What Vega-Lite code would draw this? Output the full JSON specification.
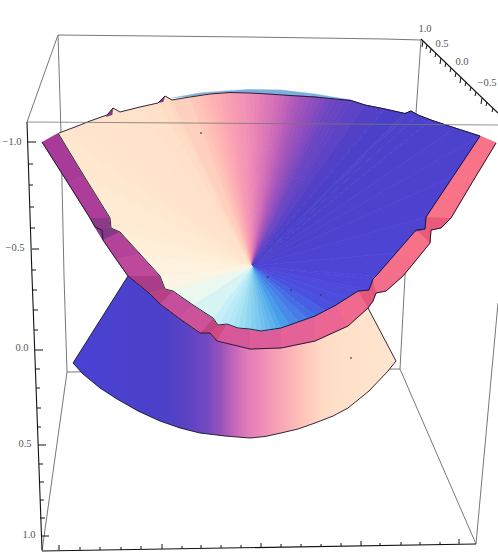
{"$schema":"https://vega.github.io/schema/vega-lite/v6.json","width":498,"height":552,"padding":0,"autosize":"none","background":"white","config":{"view":{"stroke":null}},
"datasets":{
"back":[{"i":1,"x":[58,248,385,421],"y":[35,37,39,40],"o":[0,1,2,3]},{"i":2,"x":[27,58],"y":[122,35],"o":[0,1]},{"i":3,"x":[58,61,64,67],"y":[35,133,276,372],"o":[0,1,2,3]},{"i":4,"x":[67,42],"y":[372,551],"o":[0,1]},{"i":5,"x":[67,400],"y":[372,369],"o":[0,1]},{"i":6,"x":[400,405,416,421],"y":[369,276,113,40],"o":[0,1,2,3]},{"i":7,"x":[400,476],"y":[369,544],"o":[0,1]},{"i":8,"x":[476,498],"y":[544,303],"o":[0,1]}],
"lower":[{"i":1,"x":[128,73,83,100,117,138,160,180,200,225,250,265,281,298,315,333,348,369,388,396,368,348,315,281,250,217,210,200,180,160,149],"y":[276,363,374,388,399,411,421,428,433,436,438,436.5,433,429,423,416,408,391,371,361,308,326,341,348,349,341,333,333,319,304,293],"o":[0,1,2,3,4,5,6,7,8,9,10,11,12,13,14,15,16,17,18,19,20,21,22,23,24,25,26,27,28,29,30]}],
"strip":[{"i":1,"x":[172,200,225,248,281,315,351,315,268,248,225,200],"y":[98,93,91,89.5,90,94,100,97,94,93,94,96],"o":[0,1,2,3,4,5,6,7,8,9,10,11]}],
"band":[
{"i":1,"v":400,"x":[58,84,68,42],"y":[133,176,183,142],"o":[0,1,2,3]},
{"i":2,"v":404,"x":[84,110,90,68],"y":[176,218,218,183],"o":[0,1,2,3]},
{"i":3,"v":605,"x":[110,111,95,90],"y":[218,228,227,218],"o":[0,1,2,3]},
{"i":4,"v":600,"x":[111,120,103,95],"y":[228,232,240,227],"o":[0,1,2,3]},
{"i":5,"v":412,"x":[120,140,116,103],"y":[232,254,259,240],"o":[0,1,2,3]},
{"i":6,"v":420,"x":[140,160,128,116],"y":[254,276,276,259],"o":[0,1,2,3]},
{"i":7,"v":632,"x":[160,165,149,128],"y":[276,289,293,276],"o":[0,1,2,3]},
{"i":8,"v":645,"x":[165,173,160,149],"y":[289,291,304,293],"o":[0,1,2,3]},
{"i":9,"v":428,"x":[173,193,180,160],"y":[291,305,319,304],"o":[0,1,2,3]},
{"i":10,"v":436,"x":[193,213,200,180],"y":[305,318,333,319],"o":[0,1,2,3]},
{"i":11,"v":655,"x":[213,218,210,200],"y":[318,325,333,333],"o":[0,1,2,3]},
{"i":12,"v":670,"x":[218,227,217,210],"y":[325,324,341,333],"o":[0,1,2,3]},
{"i":13,"v":452,"x":[227,250,250,217],"y":[324,329,349,341],"o":[0,1,2,3]},
{"i":14,"v":464,"x":[250,281,281,250],"y":[329,328,348,349],"o":[0,1,2,3]},
{"i":15,"v":475,"x":[281,315,315,281],"y":[328,316,341,348],"o":[0,1,2,3]},
{"i":16,"v":482,"x":[315,336,348,315],"y":[316,305,326,341],"o":[0,1,2,3]},
{"i":17,"v":488,"x":[336,358,368,348],"y":[305,291,308,326],"o":[0,1,2,3]},
{"i":18,"v":695,"x":[358,369,373,368],"y":[291,290,301,308],"o":[0,1,2,3]},
{"i":19,"v":695,"x":[369,373,376,373],"y":[290,279,293,301],"o":[0,1,2,3]},
{"i":20,"v":493,"x":[373,376,403,386,376],"y":[279,276,276,291,293],"o":[0,1,2,3,4]},
{"i":21,"v":496,"x":[376,396,417,403],"y":[276,253,259,276],"o":[0,1,2,3]},
{"i":22,"v":498,"x":[396,416,430,417],"y":[253,230,243,259],"o":[0,1,2,3]},
{"i":23,"v":700,"x":[416,425,431,430],"y":[230,229,230,243],"o":[0,1,2,3]},
{"i":24,"v":700,"x":[425,426,451,441,431],"y":[229,217,218,228,230],"o":[0,1,2,3,4]},
{"i":25,"v":500,"x":[426,453,473,451],"y":[217,176,181,218],"o":[0,1,2,3]},
{"i":26,"v":500,"x":[453,480,496,473],"y":[176,136,143,181],"o":[0,1,2,3]}],
"fan":[
{"i":1,"v":-53.6,"x":[252,59,75],"y":[266,133,127],"o":[0,1,2]},
{"i":2,"v":-50,"x":[252,75,90],"y":[266,127,121],"o":[0,1,2]},
{"i":3,"v":-46,"x":[252,90,107],"y":[266,121,115],"o":[0,1,2]},
{"i":4,"v":-42.5,"x":[252,107,113],"y":[266,115,108],"o":[0,1,2]},
{"i":5,"v":-41,"x":[252,113,120],"y":[266,108,112],"o":[0,1,2]},
{"i":6,"v":-38,"x":[252,120,140],"y":[266,112,107],"o":[0,1,2]},
{"i":7,"v":-32.6,"x":[252,140,158],"y":[266,107,103],"o":[0,1,2]},
{"i":8,"v":-28.5,"x":[252,158,165],"y":[266,103,96],"o":[0,1,2]},
{"i":9,"v":-26.4,"x":[252,165,172],"y":[266,96,100],"o":[0,1,2]},
{"i":10,"v":-23,"x":[252,172,190],"y":[266,100,97],"o":[0,1,2]},
{"i":11,"v":-19.3,"x":[252,190,195],"y":[266,97,96.2],"o":[0,1,2]},
{"i":12,"v":-17.8,"x":[252,195,200],"y":[266,96.2,95.5],"o":[0,1,2]},
{"i":13,"v":-16.2,"x":[252,200,205],"y":[266,95.5,94.7],"o":[0,1,2]},
{"i":14,"v":-14.5,"x":[252,205,210],"y":[266,94.7,94],"o":[0,1,2]},
{"i":15,"v":-12.9,"x":[252,210,215],"y":[266,94,93.5],"o":[0,1,2]},
{"i":16,"v":-11.3,"x":[252,215,220],"y":[266,93.5,93],"o":[0,1,2]},
{"i":17,"v":-9.7,"x":[252,220,225],"y":[266,93,92.7],"o":[0,1,2]},
{"i":18,"v":-8,"x":[252,225,230],"y":[266,92.7,92.5],"o":[0,1,2]},
{"i":19,"v":-6.4,"x":[252,230,235],"y":[266,92.5,92.7],"o":[0,1,2]},
{"i":20,"v":-4.8,"x":[252,235,240],"y":[266,92.7,93],"o":[0,1,2]},
{"i":21,"v":-3.2,"x":[252,240,245],"y":[266,93,93],"o":[0,1,2]},
{"i":22,"v":-1.5,"x":[252,245,250],"y":[266,93,93],"o":[0,1,2]},
{"i":23,"v":0.2,"x":[252,250,255],"y":[266,93,93.2],"o":[0,1,2]},
{"i":24,"v":1.8,"x":[252,255,260],"y":[266,93.2,93.5],"o":[0,1,2]},
{"i":25,"v":3.5,"x":[252,260,265],"y":[266,93.5,93.8],"o":[0,1,2]},
{"i":26,"v":5.1,"x":[252,265,270],"y":[266,93.8,94.2],"o":[0,1,2]},
{"i":27,"v":6.8,"x":[252,270,275],"y":[266,94.2,94.6],"o":[0,1,2]},
{"i":28,"v":8.4,"x":[252,275,280],"y":[266,94.6,95],"o":[0,1,2]},
{"i":29,"v":10,"x":[252,280,285],"y":[266,95,95.3],"o":[0,1,2]},
{"i":30,"v":11.7,"x":[252,285,290],"y":[266,95.3,95.5],"o":[0,1,2]},
{"i":31,"v":13.4,"x":[252,290,295],"y":[266,95.5,95.8],"o":[0,1,2]},
{"i":32,"v":15,"x":[252,295,300],"y":[266,95.8,96],"o":[0,1,2]},
{"i":33,"v":16.6,"x":[252,300,305],"y":[266,96,96.3],"o":[0,1,2]},
{"i":34,"v":18.2,"x":[252,305,310],"y":[266,96.3,96.6],"o":[0,1,2]},
{"i":35,"v":19.8,"x":[252,310,315],"y":[266,96.6,97],"o":[0,1,2]},
{"i":36,"v":21.3,"x":[252,315,320],"y":[266,97,97.6],"o":[0,1,2]},
{"i":37,"v":22.8,"x":[252,320,325],"y":[266,97.6,98.2],"o":[0,1,2]},
{"i":38,"v":24.3,"x":[252,325,330],"y":[266,98.2,98.8],"o":[0,1,2]},
{"i":39,"v":25.7,"x":[252,330,335],"y":[266,98.8,99.2],"o":[0,1,2]},
{"i":40,"v":27.1,"x":[252,335,340],"y":[266,99.2,99.6],"o":[0,1,2]},
{"i":41,"v":28.5,"x":[252,340,345],"y":[266,99.6,100],"o":[0,1,2]},
{"i":42,"v":30,"x":[252,345,351],"y":[266,100,100.5],"o":[0,1,2]},
{"i":43,"v":33,"x":[252,351,365],"y":[266,100.5,105],"o":[0,1,2]},
{"i":44,"v":37.7,"x":[252,365,385],"y":[266,105,109],"o":[0,1,2]},
{"i":45,"v":42.7,"x":[252,385,405],"y":[266,109,113.5],"o":[0,1,2]},
{"i":46,"v":45.4,"x":[252,405,411],"y":[266,113.5,111],"o":[0,1,2]},
{"i":47,"v":46.7,"x":[252,411,418],"y":[266,111,115],"o":[0,1,2]},
{"i":48,"v":49.2,"x":[252,418,431],"y":[266,115,120],"o":[0,1,2]},
{"i":49,"v":53.3,"x":[252,431,455],"y":[266,120,128],"o":[0,1,2]},
{"i":50,"v":58,"x":[252,455,480],"y":[266,128,136],"o":[0,1,2]},
{"i":51,"v":63,"x":[252,480,453],"y":[266,136,176.5],"o":[0,1,2]},
{"i":52,"v":70,"x":[252,453,426],"y":[266,176.5,217],"o":[0,1,2]},
{"i":53,"v":76,"x":[252,426,425],"y":[266,217,229],"o":[0,1,2]},
{"i":54,"v":77.7,"x":[252,425,416],"y":[266,229,230],"o":[0,1,2]},
{"i":55,"v":81,"x":[252,416,396],"y":[266,230,253],"o":[0,1,2]},
{"i":56,"v":90,"x":[252,396,376],"y":[266,253,276],"o":[0,1,2]},
{"i":57,"v":95,"x":[252,376,373],"y":[266,276,279],"o":[0,1,2]},
{"i":58,"v":99,"x":[252,373,369],"y":[266,279,290],"o":[0,1,2]},
{"i":59,"v":102.5,"x":[252,369,358],"y":[266,290,291],"o":[0,1,2]},
{"i":60,"v":106,"x":[252,358,347],"y":[266,291,298],"o":[0,1,2]},
{"i":61,"v":112,"x":[252,347,336],"y":[266,298,305],"o":[0,1,2]},
{"i":62,"v":118,"x":[252,336,325.5],"y":[266,305,310.5],"o":[0,1,2]},
{"i":63,"v":125,"x":[252,325.5,315],"y":[266,310.5,316],"o":[0,1,2]},
{"i":64,"v":131,"x":[252,315,306.5],"y":[266,316,319],"o":[0,1,2]},
{"i":65,"v":137.5,"x":[252,306.5,298],"y":[266,319,322],"o":[0,1,2]},
{"i":66,"v":144,"x":[252,298,289],"y":[266,322,325],"o":[0,1,2]},
{"i":67,"v":151,"x":[252,289,281],"y":[266,325,328],"o":[0,1,2]},
{"i":68,"v":157,"x":[252,281,275.5],"y":[266,328,329],"o":[0,1,2]},
{"i":69,"v":162,"x":[252,275.5,270],"y":[266,329,330],"o":[0,1,2]},
{"i":70,"v":166,"x":[252,270,265.5],"y":[266,330,330.5],"o":[0,1,2]},
{"i":71,"v":170,"x":[252,265.5,261],"y":[266,330.5,331],"o":[0,1,2]},
{"i":72,"v":175,"x":[252,261,255.5],"y":[266,331,330],"o":[0,1,2]},
{"i":73,"v":180,"x":[252,255.5,250],"y":[266,330,329],"o":[0,1,2]},
{"i":74,"v":185,"x":[252,250,244],"y":[266,329,328.5],"o":[0,1,2]},
{"i":75,"v":190,"x":[252,244,238],"y":[266,328.5,328],"o":[0,1,2]},
{"i":76,"v":195,"x":[252,238,232.5],"y":[266,328,326],"o":[0,1,2]},
{"i":77,"v":201,"x":[252,232.5,227],"y":[266,326,324],"o":[0,1,2]},
{"i":78,"v":206.7,"x":[252,227,218],"y":[266,324,325],"o":[0,1,2]},
{"i":79,"v":213.5,"x":[252,218,213],"y":[266,325,318],"o":[0,1,2]},
{"i":80,"v":226.7,"x":[252,213,193],"y":[266,318,305],"o":[0,1,2]},
{"i":81,"v":244.5,"x":[252,193,173],"y":[266,305,291],"o":[0,1,2]},
{"i":82,"v":253.8,"x":[252,173,165],"y":[266,291,289],"o":[0,1,2]},
{"i":83,"v":259.5,"x":[252,165,160],"y":[266,289,276],"o":[0,1,2]},
{"i":84,"v":270,"x":[252,160,140],"y":[266,276,254],"o":[0,1,2]},
{"i":85,"v":280,"x":[252,140,120],"y":[266,254,232],"o":[0,1,2]},
{"i":86,"v":284.8,"x":[252,120,111],"y":[266,232,228],"o":[0,1,2]},
{"i":87,"v":287,"x":[252,111,110],"y":[266,228,218],"o":[0,1,2]},
{"i":88,"v":293.5,"x":[252,110,84],"y":[266,218,176],"o":[0,1,2]},
{"i":89,"v":301.3,"x":[252,84,58],"y":[266,176,133],"o":[0,1,2]},
{"i":90,"v":304,"x":[252,58,59],"y":[266,133,133],"o":[0,1,2]}],
"notch":[
{"i":1,"v":600,"x":[106,113,112],"y":[117,108,115],"o":[0,1,2]},
{"i":2,"v":600,"x":[158,165,163],"y":[103,96,102],"o":[0,1,2]},
{"i":3,"v":60,"x":[404,411,418,412],"y":[114,111,116,118],"o":[0,1,2,3]}],
"outline":[
{"i":1,"x":[59,75,90,107,113,120,140,158,165,172,190,210,230,250,268,290,315,351,365,385,405,411,418,431,455,480],"y":[133,127,121,115,108,112,107,103,96,100,97,94,92.5,93,94,95.5,97,100.5,105,109,113.5,111,115,120,128,136],"o":[0,1,2,3,4,5,6,7,8,9,10,11,12,13,14,15,16,17,18,19,20,21,22,23,24,25]},
{"i":2,"x":[480,453,426,425,416,396,376,373,369,358,336,315,298,281,261,250,238,227,218,213,193,173,165,160,140,120,111,110,84,58],"y":[136,176.5,217,229,230,253,276,279,290,291,305,316,322,328,331,329,328,324,325,318,305,291,289,276,254,232,228,218,176,133],"o":[0,1,2,3,4,5,6,7,8,9,10,11,12,13,14,15,16,17,18,19,20,21,22,23,24,25,26,27,28,29]},
{"i":3,"x":[42,68,90,95,102,103,116,128,149,160,180,200,210,217,250,281,315,348,368,373,376,386,403,417,430,431,441,451,473,496],"y":[142,183,218,227,230,240,259,276,293,304,319,333,333,341,349,348,341,326,308,301,293,291,276,259,243,230,228,218,181,143],"o":[0,1,2,3,4,5,6,7,8,9,10,11,12,13,14,15,16,17,18,19,20,21,22,23,24,25,26,27,28,29]},
{"i":4,"x":[128,73,83,100,117,138,160,180,200,225,250,265,281,298,315,333,348,369,388,396,368],"y":[276,363,374,388,399,411,421,428,433,436,438,436.5,433,429,423,416,408,391,371,361,308],"o":[0,1,2,3,4,5,6,7,8,9,10,11,12,13,14,15,16,17,18,19,20]}],
"front":[{"i":1,"x":[27,498],"y":[122,125],"o":[0,1]}],
"axes":[{"i":1,"x":[27,32,42],"y":[122,276,550],"o":[0,1,2]},{"i":2,"x":[42,476],"y":[551,544],"o":[0,1]},{"i":3,"x":[421,498],"y":[39,113],"o":[0,1]}],
"ticks":[
{"x":28,"y":142,"x2":36,"y2":142},{"x":29,"y":164,"x2":33,"y2":164},{"x":29,"y":185,"x2":33,"y2":185},{"x":30,"y":207,"x2":34,"y2":207},{"x":31,"y":228,"x2":35,"y2":228},{"x":32,"y":249,"x2":39,"y2":249},{"x":32,"y":270,"x2":36,"y2":270},{"x":33,"y":290,"x2":37,"y2":290},{"x":33,"y":310,"x2":38,"y2":310},{"x":34,"y":330,"x2":38,"y2":330},{"x":35,"y":350,"x2":43,"y2":350},{"x":36,"y":369,"x2":40,"y2":369},{"x":36,"y":388,"x2":40,"y2":388},{"x":37,"y":408,"x2":41,"y2":408},{"x":37,"y":427,"x2":41,"y2":427},{"x":38,"y":445,"x2":46,"y2":445},{"x":39,"y":464,"x2":43,"y2":464},{"x":39,"y":482,"x2":44,"y2":482},{"x":40,"y":500,"x2":44,"y2":500},{"x":40,"y":518,"x2":45,"y2":518},{"x":41,"y":536,"x2":49,"y2":536},
{"x":59,"y":550,"x2":59,"y2":545},{"x":80,"y":550,"x2":80,"y2":547},{"x":100,"y":550,"x2":100,"y2":547},{"x":121,"y":550,"x2":121,"y2":547},{"x":141,"y":549,"x2":141,"y2":546},{"x":162,"y":549,"x2":162,"y2":544},{"x":182,"y":549,"x2":182,"y2":546},{"x":201,"y":548,"x2":201,"y2":545},{"x":221,"y":548,"x2":221,"y2":545},{"x":241,"y":548,"x2":241,"y2":545},{"x":261,"y":548,"x2":261,"y2":543},{"x":281,"y":547,"x2":281,"y2":544},{"x":301,"y":547,"x2":301,"y2":544},{"x":321,"y":547,"x2":321,"y2":544},{"x":341,"y":546,"x2":341,"y2":543},{"x":361,"y":546,"x2":361,"y2":541},{"x":380,"y":546,"x2":380,"y2":543},{"x":401,"y":545,"x2":401,"y2":542},{"x":420,"y":545,"x2":420,"y2":542},{"x":440,"y":545,"x2":440,"y2":542},{"x":459,"y":544,"x2":459,"y2":539},
{"x":423,"y":41,"x2":422,"y2":47},{"x":427,"y":45,"x2":426,"y2":49},{"x":431,"y":49,"x2":430,"y2":53},{"x":436,"y":53,"x2":435,"y2":57},{"x":441,"y":58,"x2":440,"y2":64},{"x":446,"y":63,"x2":445,"y2":67},{"x":451,"y":68,"x2":450,"y2":72},{"x":456,"y":73,"x2":455,"y2":77},{"x":461,"y":77,"x2":460,"y2":83},{"x":466,"y":82,"x2":465,"y2":86},{"x":471,"y":87,"x2":470,"y2":91},{"x":476,"y":92,"x2":475,"y2":96},{"x":482,"y":98,"x2":481,"y2":104},{"x":487,"y":102,"x2":486,"y2":106},{"x":493,"y":108,"x2":492,"y2":112}],
"labels":[{"x":12,"y":142,"t":"−1.0"},{"x":15,"y":248,"t":"−0.5"},{"x":22,"y":348,"t":"0.0"},{"x":25,"y":444,"t":"0.5"},{"x":29,"y":535,"t":"1.0"},{"x":425,"y":29,"t":"1.0"},{"x":442,"y":44,"t":"0.5"},{"x":462,"y":62,"t":"0.0"},{"x":487,"y":83,"t":"−0.5"}],
"specks":[{"x":201,"y":133},{"x":351,"y":358},{"x":268,"y":277},{"x":291,"y":290},{"x":321,"y":295}]
},
"encoding":{"x":{"field":"x","type":"quantitative","scale":{"domain":[0,498],"nice":false,"zero":false},"axis":null},"y":{"field":"y","type":"quantitative","scale":{"domain":[552,0],"nice":false,"zero":false},"axis":null}},
"layer":[
{"data":{"name":"back"},"transform":[{"flatten":["x","y","o"]}],"mark":{"type":"line","stroke":"#777777","strokeWidth":1},"encoding":{"detail":{"field":"i"},"order":{"field":"o"}}},
{"data":{"name":"lower"},"transform":[{"flatten":["x","y","o"]}],"mark":{"type":"line","strokeWidth":0,"fill":{"gradient":"linear","x1":0,"y1":0,"x2":1,"y2":0,"stops":[{"offset":0,"color":"#4a42d4"},{"offset":0.285,"color":"#4c40c8"},{"offset":0.353,"color":"#5c43c5"},{"offset":0.418,"color":"#7549c1"},{"offset":0.458,"color":"#9a53bb"},{"offset":0.502,"color":"#c768b9"},{"offset":0.539,"color":"#e07db7"},{"offset":0.582,"color":"#ee8ab6"},{"offset":0.619,"color":"#f69cb5"},{"offset":0.663,"color":"#fbaeb6"},{"offset":0.718,"color":"#ffc6b9"},{"offset":0.771,"color":"#ffdac5"},{"offset":0.827,"color":"#ffe0c8"},{"offset":1,"color":"#ffe6cf"}]}},"encoding":{"detail":{"field":"i"},"order":{"field":"o"}}},
{"data":{"name":"strip"},"transform":[{"flatten":["x","y","o"]}],"mark":{"type":"line","fill":"#7cb0dc","stroke":"#7cb0dc","strokeWidth":0.5},"encoding":{"detail":{"field":"i"},"order":{"field":"o"}}},
{"data":{"name":"band"},"transform":[{"flatten":["x","y","o"]}],"mark":{"type":"line","strokeWidth":1},"encoding":{"detail":{"field":"i"},"order":{"field":"o"},"fill":{"field":"v","type":"quantitative","legend":null,"scale":{"domain":[-60,-30,-18,-8,0,8,16,26,40,100,120,140,160,175,195,215,240,260,280,304,400,430,470,500,600,700],"range":["#ffe6cf","#ffe0c8","#ffc4b8","#f9a0b4","#ee8ab6","#d470b8","#a656ba","#6c46c2","#4c40c8","#4f46d8","#4a52e0","#4a80e8","#5ab0ec","#7cc8ee","#a8e4f4","#c8f0f8","#e8f8f4","#fdf4e4","#ffeed8","#ffe6cf","#a83a98","#c8509a","#e0609a","#f87288","#863888","#e85a78"]}},"stroke":{"field":"v","type":"quantitative","legend":null,"scale":{"domain":[-60,-30,-18,-8,0,8,16,26,40,100,120,140,160,175,195,215,240,260,280,304,400,430,470,500,600,700],"range":["#ffe6cf","#ffe0c8","#ffc4b8","#f9a0b4","#ee8ab6","#d470b8","#a656ba","#6c46c2","#4c40c8","#4f46d8","#4a52e0","#4a80e8","#5ab0ec","#7cc8ee","#a8e4f4","#c8f0f8","#e8f8f4","#fdf4e4","#ffeed8","#ffe6cf","#a83a98","#c8509a","#e0609a","#f87288","#863888","#e85a78"]}}}},
{"data":{"name":"fan"},"transform":[{"flatten":["x","y","o"]}],"mark":{"type":"line","strokeWidth":1},"encoding":{"detail":{"field":"i"},"order":{"field":"o"},"fill":{"field":"v","type":"quantitative","legend":null},"stroke":{"field":"v","type":"quantitative","legend":null}}},
{"data":{"name":"notch"},"transform":[{"flatten":["x","y","o"]}],"mark":{"type":"line","strokeWidth":0.5},"encoding":{"detail":{"field":"i"},"order":{"field":"o"},"fill":{"field":"v","type":"quantitative","legend":null},"stroke":{"field":"v","type":"quantitative","legend":null}}},
{"data":{"name":"outline"},"transform":[{"flatten":["x","y","o"]}],"mark":{"type":"line","stroke":"#14142a","strokeWidth":0.9},"encoding":{"detail":{"field":"i"},"order":{"field":"o"}}},
{"data":{"name":"front"},"transform":[{"flatten":["x","y","o"]}],"mark":{"type":"line","stroke":"#777777","strokeWidth":1,"opacity":0.8},"encoding":{"detail":{"field":"i"},"order":{"field":"o"}}},
{"data":{"name":"axes"},"transform":[{"flatten":["x","y","o"]}],"mark":{"type":"line","stroke":"#111111","strokeWidth":1.1},"encoding":{"detail":{"field":"i"},"order":{"field":"o"}}},
{"data":{"name":"ticks"},"mark":{"type":"rule","stroke":"#111111","strokeWidth":1},"encoding":{"x2":{"field":"x2"},"y2":{"field":"y2"}}},
{"data":{"name":"labels"},"mark":{"type":"text","font":"Liberation Serif","fontSize":10.5,"fill":"#555555","align":"center","baseline":"middle"},"encoding":{"text":{"field":"t"}}},
{"data":{"name":"specks"},"mark":{"type":"point","shape":"square","filled":true,"size":3,"color":"#332a40","opacity":0.8}}
]}
